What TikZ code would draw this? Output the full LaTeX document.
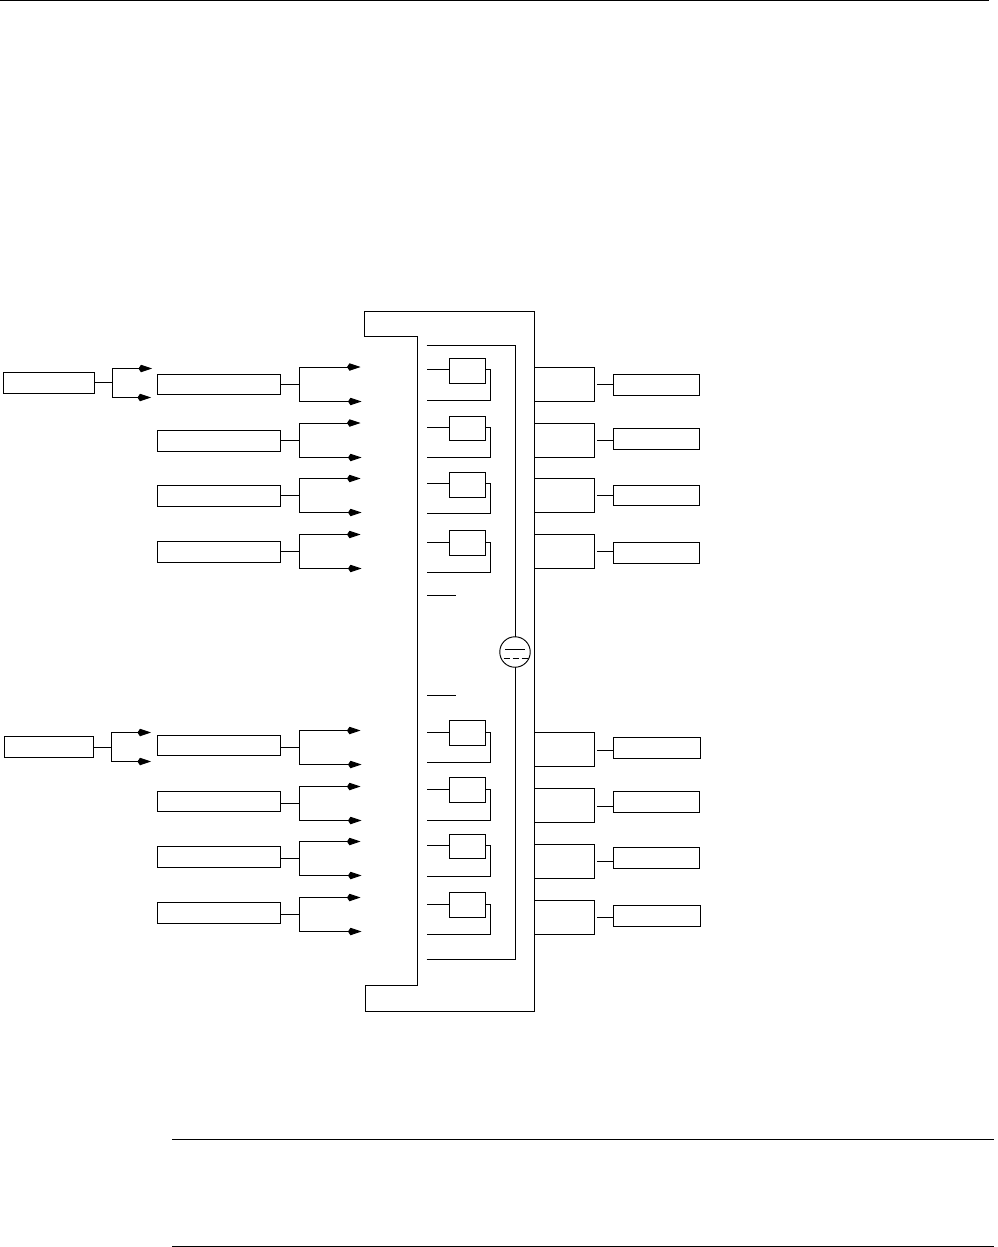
\documentclass[tikz,border=0pt]{standalone}
\usetikzlibrary{arrows.meta,calc}
\tikzset{
  ln/.style={draw=black,line width=0.95pt,line cap=butt,line join=miter},
  box/.style={ln,rectangle,inner sep=0pt,outer sep=0pt},
  tip/.style={ln,-{Kite[length=13.5pt,width=7.5pt,inset=2.5pt]}},
  rulex/.style={draw=black,line width=1pt}
}
% \bx{name}{x1}{y1}{x2}{y2}
\newcommand{\bx}[5]{%
  \pgfmathsetmacro{\wdv}{#4-#2}\pgfmathsetmacro{\htv}{#5-#3}%
  \node[box,minimum width=\wdv pt,minimum height=\htv pt] (#1) at ({(#2+#4)/2},{(#3+#5)/2}) {};}
% \fork{name}{box x2}{jx}{stub y}{top y}{bot y}{tip x top}{tip x bottom}
\newcommand{\fork}[8]{%
  \coordinate (#1s) at (#3,#4);
  \coordinate (#1t) at (#7,#5);
  \coordinate (#1b) at (#8,#6);
  \draw[ln] (#1.east |- #1s) -- (#1s);
  \draw[tip] (#1s) |- (#1t);
  \draw[tip] (#1s) |- (#1b);}
% \lrow{name}{y1}{y2}{stub}{top}{bot}
\newcommand{\lrow}[6]{\bx{#1}{157.5}{#2}{280.5}{#3}\fork{#1}{280.5}{299.5}{#4}{#5}{#6}{360.5}{361.5}}
% \cell{name}{y1}{y2}{in y}{out y}
\newcommand{\cell}[5]{%
  \bx{#1}{449.5}{#2}{485.5}{#3}
  \coordinate (#1i) at (427,#4);
  \coordinate (#1o) at (427,#5);
  \coordinate (#1c) at (490.5,#4);
  \draw[ln] (#1i) -- (#1.west |- #1i);
  \draw[ln] (#1.east |- #1i) -- (#1c) |- (#1o);}
% \rrow{name}{bracket top}{bracket bot}{stub}{y1}{y2}{x2}
\newcommand{\rrow}[7]{%
  \bx{#1}{613.5}{#5}{#7}{#6}
  \coordinate (#1u) at (534.5,#2);
  \coordinate (#1d) at (534.5,#3);
  \coordinate (#1s) at (597,#4);
  \draw[ln] (#1u) -| (594.5,#3) -- (#1d);
  \draw[ln] (#1s) -- (#1.west |- #1s);}
\begin{document}
\begin{tikzpicture}[x=1pt,y=-1pt]
\useasboundingbox (0,0) rectangle (998,1247);
% page rules
\coordinate (r1a) at (0,0.5);      \coordinate (r1b) at (989,0.5);
\coordinate (r2a) at (172,1139.5); \coordinate (r2b) at (994,1139.5);
\coordinate (r3a) at (172,1246.5); \coordinate (r3b) at (994,1246.5);
\draw[rulex] (r1a) -- (r1b);
\draw[rulex] (r2a) -- (r2b);
\draw[rulex] (r3a) -- (r3b);
% outer shape
\draw[ln] (364.5,311.5) -- (534.5,311.5) -- (534.5,1011.5) -- (365.5,1011.5) -- (365.5,985.5) -- (417,985.5) -- (417,336.5) -- (364.5,336.5) -- cycle;
% inner loop and circle
\node[ln,circle,inner sep=0pt,outer sep=0pt,minimum size=30.5pt] (cir) at (515,652) {};
\coordinate (lpa) at (426.5,345.5);
\coordinate (lpb) at (426.5,959);
\draw[ln] (lpa) -| (cir.north);
\draw[ln] (lpb) -| (cir.south);
\coordinate (csa) at (505,649); \coordinate (csb) at (525,649);
\coordinate (cda) at (503.5,658.5); \coordinate (cdb) at (528,658.5);
\draw[ln] (csa) -- (csb);
\draw[ln,dash pattern=on 6pt off 3pt] (cda) -- (cdb);
% short lines
\coordinate (sa1) at (427,595.5); \coordinate (sb1) at (456,595.5);
\coordinate (sa2) at (427,695.5); \coordinate (sb2) at (456,695.5);
\draw[ln] (sa1) -- (sb1);
\draw[ln] (sa2) -- (sb2);
% far-left boxes
\bx{A}{3.5}{372.5}{94.5}{393.5}
\fork{A}{94.5}{112.5}{382.5}{368.5}{397.5}{152}{151}
\bx{B}{4.5}{736.5}{93.5}{757.5}
\fork{B}{93.5}{111.5}{747.5}{732.5}{761.5}{151}{151}
% left rows
\lrow{L1}{374.5}{394.5}{384.5}{367}{401.5}
\lrow{L2}{430.5}{451}{440.5}{423}{457.5}
\lrow{L3}{485.5}{506}{495.5}{478.5}{512.5}
\lrow{L4}{541.5}{562}{551}{534.5}{568.5}
\lrow{L5}{735.5}{755.5}{747.5}{730.5}{764.5}
\lrow{L6}{791.5}{811.5}{803.5}{786.5}{820.5}
\lrow{L7}{846.5}{867.5}{858}{841.5}{875.5}
\lrow{L8}{902.5}{923.5}{914.5}{897.5}{931.5}
% cells
\cell{C1}{358.5}{383.5}{369.5}{400.5}
\cell{C2}{416.5}{440.5}{427.5}{457.5}
\cell{C3}{472.5}{497.5}{483.5}{513.5}
\cell{C4}{530.5}{555.5}{542.5}{572.5}
\cell{C5}{720.5}{745.5}{732.5}{762.5}
\cell{C6}{777.5}{802.5}{789.5}{820.5}
\cell{C7}{834.5}{858.5}{845.5}{876.5}
\cell{C8}{892.5}{917.5}{904.5}{934.5}
% right rows
\rrow{R1}{367}{401}{384.5}{374.5}{395.5}{699.5}
\rrow{R2}{423}{457.5}{440}{428.5}{449}{699.5}
\rrow{R3}{478.5}{512.5}{495.5}{485}{505.5}{699.5}
\rrow{R4}{534.5}{568.5}{551}{542.5}{563}{699}
\rrow{R5}{732.5}{766.5}{750}{737.5}{758.5}{700.5}
\rrow{R6}{788.5}{822.5}{806}{791.5}{812}{699.5}
\rrow{R7}{844}{878}{861.5}{847.5}{868.5}{699.5}
\rrow{R8}{900}{934.5}{917}{905.5}{926.5}{700.5}
\end{tikzpicture}
\end{document}
